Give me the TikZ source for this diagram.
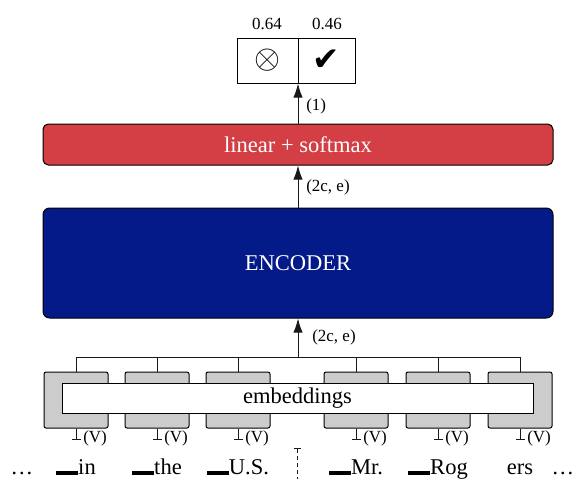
\documentclass[tikz,border=0pt]{standalone}
\usepackage{fontspec}
\setmainfont{Liberation Serif}
\newfontfamily\symfont{DejaVu Sans}
\usepackage{amsmath, amssymb}
\usepackage{tikz}
\usetikzlibrary{arrows.meta}

\definecolor{softred}{RGB}{211,63,69}
\definecolor{encnavy}{RGB}{4,26,137}
\definecolor{embgrey}{RGB}{204,204,204}
\newcommand{\spm}{\rule[-1pt]{16.5pt}{3pt}}

\begin{document}
\begin{tikzpicture}[x=0.75pt,y=0.75pt,yscale=-1,xscale=1,
    every node/.style={font=\fontsize{16.9}{20}\selectfont},
    small/.style={font=\fontsize{12.75}{15}\selectfont, inner sep=0.75pt},
    cell/.style={draw, line width=0.75pt, minimum height=33.75pt, inner sep=0pt},
    block/.style={draw, line width=0.75pt, rounded corners=4pt, text=white, minimum width=382.5pt, inner sep=0pt},
    wordbox/.style={draw, line width=0.75pt, fill=embgrey, rounded corners=1.5pt, minimum width=48pt, minimum height=42pt, inner sep=0pt},
    link/.style={line width=0.75pt, draw=black!90},
    flow/.style={link, -{Latex[length=10.5pt,width=7pt]}},
    vocab/.style={link, -{Bar[width=6.75pt]}}]
    \useasboundingbox (0,0) rectangle (574,479);

    % output cells
    \node[cell, minimum width=45.75pt] (neg) at (267.5,60.5) {\scalebox{1.45}{$\otimes$}};
    \node[cell, minimum width=42.75pt] (pos) at (326.5,60.5) {\scalebox{1.45}{\symfont ✔}};
    % Text Node
    \node[small] (p0) at (267,24) {0.64};
    % Text Node
    \node[small] (p1) at (327,24) {0.46};

    % blocks
    \node[block, fill=softred, minimum height=30.75pt] (linear) at (298,144.5) {linear + softmax};
    \node[block, fill=encnavy, minimum height=82.5pt, rounded corners=5pt] (encoder) at (298,263) {ENCODER};

    % arrows
    \draw[flow] (linear.north) -- (linear.north |- neg.south);
    \node[small, anchor=west] (d1) at (305,106) {(1)};
    \draw[flow] (encoder.north) -- (linear.south);
    \node[small, anchor=west] (d2) at (305,187) {(2c, e)};
    \coordinate (bus) at (298,357);
    \draw[flow] (bus) -- (encoder.south);
    \node[small, anchor=west] (d3) at (311,337) {(2c, e)};

    % token boxes
    \foreach \x [count=\i] in {76,157,238,356,438,520} {
        \node[wordbox] (g\i) at (\x,400) {};
        \draw[link] (g\i.north) -- (g\i.north |- bus);
        \draw[vocab] (g\i.south) -- ++(0,11);
        \node[small, anchor=west] (v\i) at (\x+6,438) {(V)};
    }
    \draw[link] (g1.north |- bus) -- (g6.north |- bus);

    \node[draw, line width=0.75pt, fill=white, minimum width=353.25pt, minimum height=22.5pt, inner sep=0pt] (emb) at (297.5,398) {embeddings};

    % tokens
    \foreach \x/\w [count=\i] in {76/\spm in, 157/\spm the, 238/\spm U.S., 356/\spm Mr., 438/\spm Rog, 520/ers}
        \node[anchor=base] (w\i) at (\x,474) {\w};
    \node[anchor=base] (dotsl) at (22,474) {\dots};
    \node[anchor=base] (dotsr) at (563,474) {\dots};

    % segment cut
    \coordinate (cut top) at (297,448);
    \coordinate (cut bot) at (297,479);
    \draw[link, dash pattern=on 3pt off 2.25pt, {Bar[width=5.25pt]}-] (cut top) -- (cut bot);

\end{tikzpicture}
\end{document}
